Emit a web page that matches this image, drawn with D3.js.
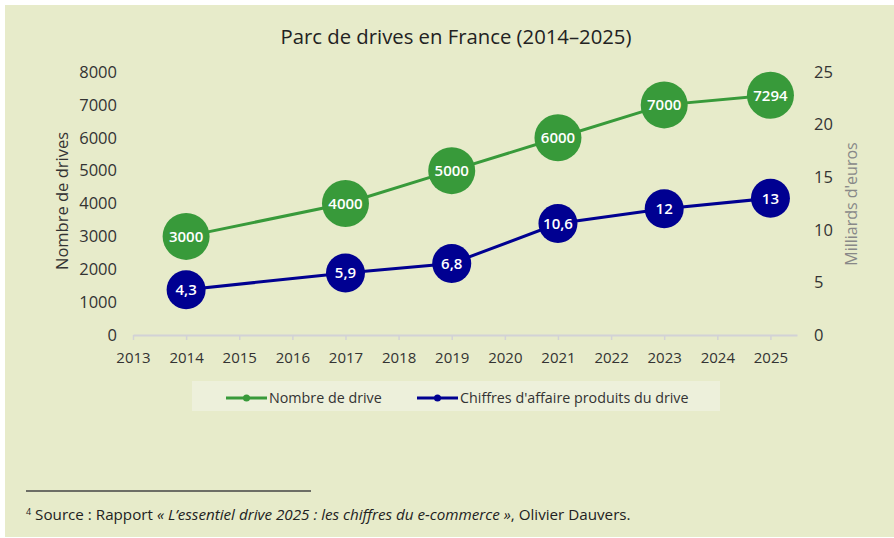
<!DOCTYPE html>
<html>
<head>
<meta charset="utf-8">
<script src="https://cdn.jsdelivr.net/npm/d3@7"></script>
<style>
  body { margin: 0; background: #fff; }
  svg { display: block; }
  text { font-family: "Open Sans", sans-serif; }
</style>
</head>
<body>
<svg id="chart" width="894" height="538"></svg>
<script>

// Data

var years = [2013, 2014, 2015, 2016, 2017, 2018, 2019, 2020, 2021, 2022, 2023, 2024, 2025];
var pointYears = [2014, 2017, 2019, 2021, 2023, 2025];
var drives = [3000, 4000, 5000, 6000, 7000, 7294];
var chiffres = [4.3, 5.9, 6.8, 10.6, 12, 13];
var driveTicks = [0, 1000, 2000, 3000, 4000, 5000, 6000, 7000, 8000];
var euroTicks = [0, 5, 10, 15, 20, 25];
var seriesNames = ["Nombre de drive", "Chiffres d'affaire produits du drive"];

var green = "#389a3a";
var blue = "#000091";

var svg = d3.select("#chart");

// Background
svg.append("rect")
	.attr("x", 5).attr("y", 5)
	.attr("width", 889).attr("height", 532)
	.attr("fill", "#e7ebca");

// Scales

var x = d3.scaleLinear().domain([2013, 2025.5]).range([133, 797]);
var yLeft = d3.scaleLinear().domain([0, 8000]).range([335, 72]);
var yRight = d3.scaleLinear().domain([0, 25]).range([335, 72]);

// Title

svg.append("text")
	.attr("x", 456).attr("y", 44)
	.attr("text-anchor", "middle")
	.attr("font-size", 20.3)
	.attr("fill", "#222")
	.text("Parc de drives en France (2014\u20132025)");

// Axes

var xAxis = svg.append("g")
	.attr("transform", "translate(0,335)")
	.call(d3.axisBottom(x).tickValues(years).tickFormat(d3.format("d")).tickSize(5).tickPadding(12).tickSizeOuter(0));
xAxis.select(".domain").attr("stroke", "#d2d2d6").attr("stroke-width", 2);
xAxis.selectAll(".tick line").attr("stroke", "#d2d2d6").attr("stroke-width", 1.5);
xAxis.selectAll(".tick text").attr("font-size", 15).attr("fill", "#333").attr("font-family", "Open Sans");

var leftAxis = svg.append("g")
	.attr("transform", "translate(133,0)")
	.call(d3.axisLeft(yLeft).tickValues(driveTicks).tickFormat(d3.format("d")).tickSize(0).tickPadding(16));
leftAxis.select(".domain").remove();
leftAxis.selectAll(".tick text").attr("font-size", 16.5).attr("fill", "#333").attr("font-family", "Open Sans");

var rightAxis = svg.append("g")
	.attr("transform", "translate(797,0)")
	.call(d3.axisRight(yRight).tickValues(euroTicks).tickFormat(d3.format("d")).tickSize(0).tickPadding(17));
rightAxis.select(".domain").remove();
rightAxis.selectAll(".tick text").attr("font-size", 16.5).attr("fill", "#333").attr("font-family", "Open Sans");

// Axis titles

svg.append("text")
	.attr("transform", "translate(68,201) rotate(-90)")
	.attr("text-anchor", "middle")
	.attr("font-size", 16.5)
	.attr("fill", "#333")
	.text("Nombre de drives");

svg.append("text")
	.attr("transform", "translate(857,204) rotate(-90)")
	.attr("text-anchor", "middle")
	.attr("font-size", 16)
	.attr("fill", "#888")
	.text("Milliards d'euros");

// Series

function drawSeries(values, yScale, color, radius, fmt) {
	var pts = pointYears.map(function(yr, i) { return [yr, values[i]]; });

	svg.append("path")
		.datum(pts)
		.attr("fill", "none")
		.attr("stroke", color)
		.attr("stroke-width", 3)
		.attr("d", d3.line().x(function(d) { return x(d[0]); }).y(function(d) { return yScale(d[1]); }));

	var g = svg.append("g").selectAll("g").data(pts).join("g")
		.attr("transform", function(d) { return "translate(" + x(d[0]) + "," + yScale(d[1]) + ")"; });

	g.append("circle").attr("r", radius).attr("fill", color);

	g.append("text")
		.attr("text-anchor", "middle")
		.attr("dy", "0.36em")
		.attr("font-size", 15)
		.attr("font-weight", 600)
		.attr("fill", "#fff")
		.text(function(d) { return fmt(d[1]); });
}

drawSeries(drives, yLeft, green, 23.5, function(v) { return String(v); });
drawSeries(chiffres, yRight, blue, 19.5, function(v) { return String(v).replace(".", ","); });

// Legend

svg.append("rect")
	.attr("x", 192).attr("y", 381)
	.attr("width", 528).attr("height", 30)
	.attr("fill", "#edf0db");

var legendItems = [
	{ name: seriesNames[0], color: green, x: 226 },
	{ name: seriesNames[1], color: blue, x: 417 }
];

var lg = svg.append("g").selectAll("g").data(legendItems).join("g")
	.attr("transform", function(d) { return "translate(" + d.x + ",398)"; });

lg.append("line")
	.attr("x1", 0).attr("x2", 41)
	.attr("stroke", function(d) { return d.color; })
	.attr("stroke-width", 3);

lg.append("circle")
	.attr("cx", 20.5).attr("r", 3.5)
	.attr("fill", function(d) { return d.color; });

lg.append("text")
	.attr("x", 43)
	.attr("dy", "0.35em")
	.attr("font-size", 14.3)
	.attr("fill", "#333")
	.text(function(d) { return d.name; });

// Footnote

svg.append("line")
	.attr("x1", 26).attr("x2", 311)
	.attr("y1", 491).attr("y2", 491)
	.attr("stroke", "#444")
	.attr("stroke-width", 1.5);

var note = svg.append("text")
	.attr("x", 26).attr("y", 520)
	.attr("font-family", "Lato")
	.attr("font-size", 15.2)
	.attr("fill", "#222");

note.append("tspan").attr("font-size", 9).attr("dy", -5).text("4");
note.append("tspan").attr("dy", 5).text(" Source : Rapport ");
note.append("tspan").attr("font-style", "italic").text("\u00ab L\u2019essentiel drive 2025 : les chiffres du e-commerce \u00bb");
note.append("tspan").text(", Olivier Dauvers.");

</script>
</body>
</html>
